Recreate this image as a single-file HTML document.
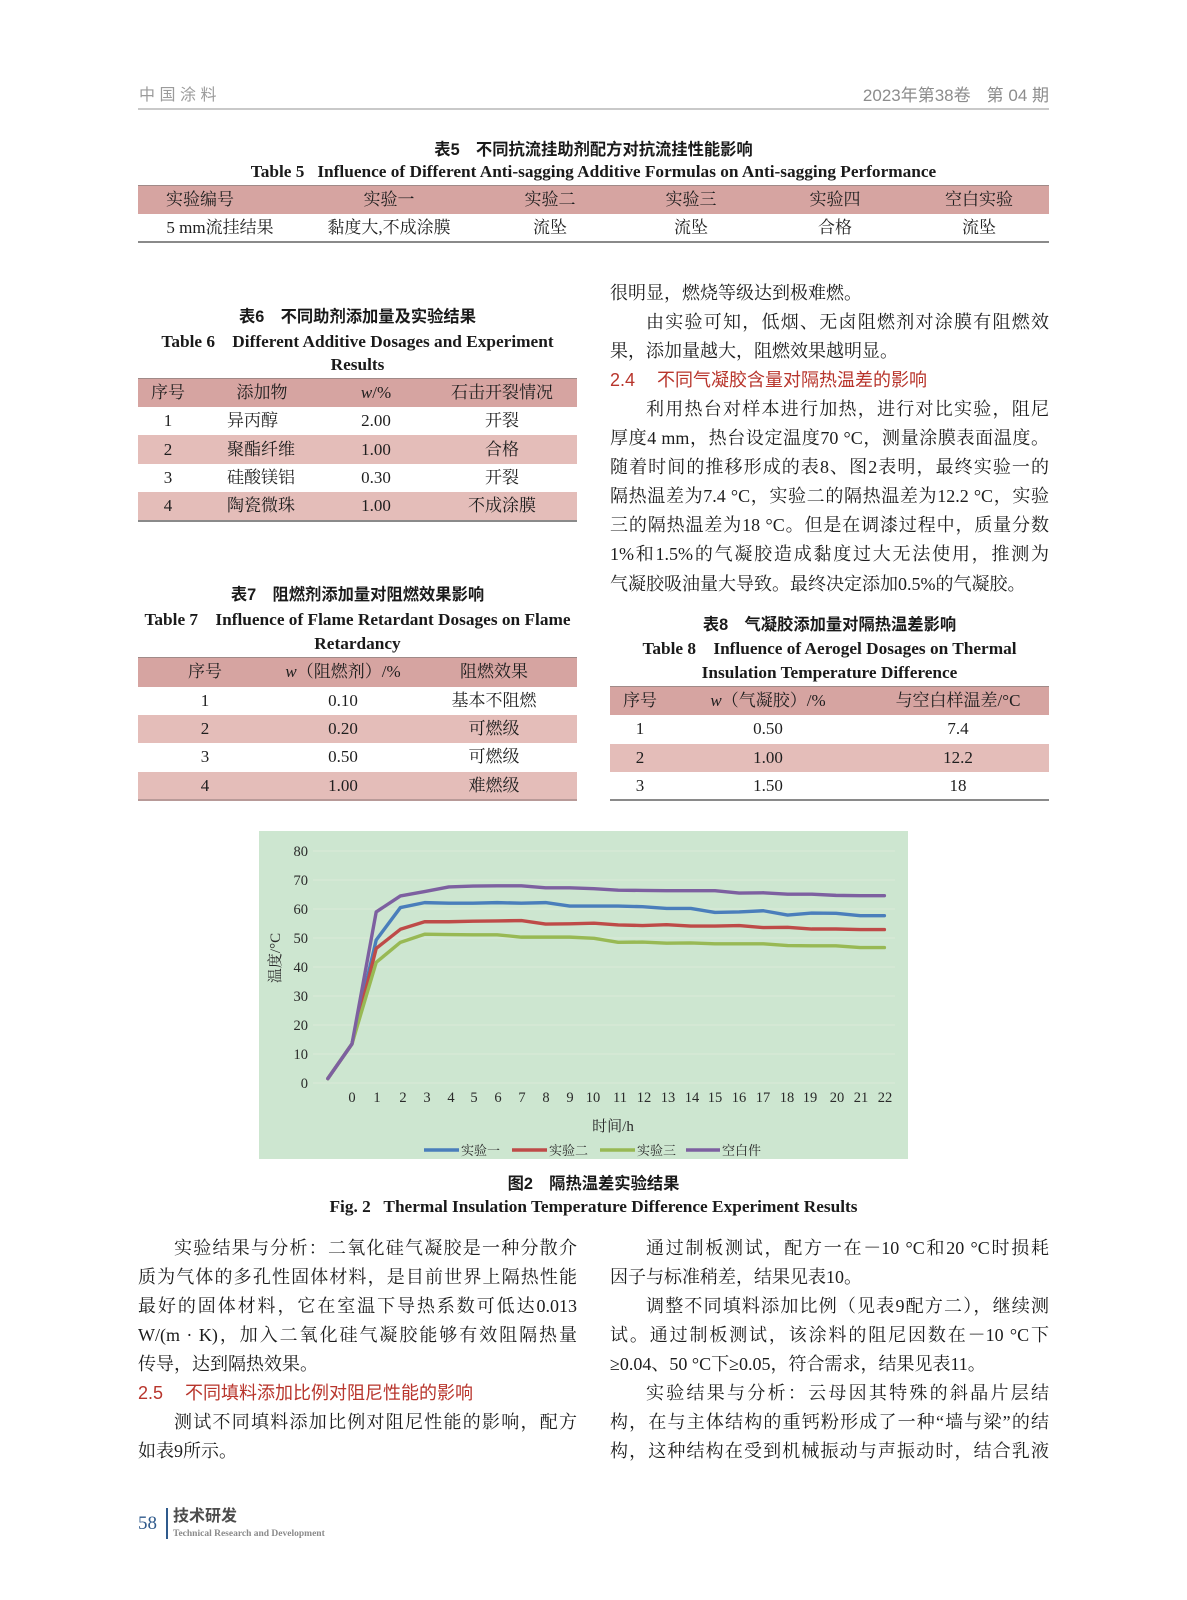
<!DOCTYPE html>
<html><head><meta charset="utf-8">
<style>
*{margin:0;padding:0;box-sizing:border-box}
html,body{width:1187px;height:1600px;background:#fff;overflow:hidden}
body{position:relative;font-family:"Liberation Serif","Noto Serif CJK SC",serif;color:#1e1e1e}
.a{position:absolute;white-space:nowrap}
.ln{position:absolute;height:29px;line-height:29px;font-size:18px;white-space:nowrap;color:#1c1c1c}
.j{text-align:justify;text-align-last:justify;white-space:normal}
.ind{text-indent:2em}
.L{left:138px;width:439px}
.R{left:610px;width:439px}
.h{font-family:"Liberation Sans","Noto Sans CJK SC",sans-serif;color:#b8352c;font-size:18px}
.tt{position:absolute;font-family:"Liberation Sans","Noto Sans CJK SC",sans-serif;font-weight:bold;font-size:16.3px;text-align:center;height:24px;line-height:24px;color:#1a1a1a;white-space:nowrap}
.te{position:absolute;font-weight:bold;font-size:17.3px;text-align:center;height:24px;line-height:24px;color:#1a1a1a;white-space:nowrap}
.bar{position:absolute;background:#d6a4a1;border-top:1.5px solid #a08a88}
.bar2{position:absolute;background:#e4bdb9}
.rule{position:absolute;height:1.5px;background:#8a8a8a}
.c{position:absolute;width:240px;margin-left:-120px;text-align:center;font-size:17px;white-space:nowrap;color:#1e1e1e;height:28px;line-height:28px}
.l{position:absolute;font-size:17px;white-space:nowrap;color:#1e1e1e;height:28px;line-height:28px}
</style></head>
<body>

<!-- header -->
<div class="a" style="left:139px;top:86px;font-family:'Liberation Sans','Noto Sans CJK SC',sans-serif;font-size:16px;letter-spacing:4.5px;color:#9b9b9b;line-height:20px">中国涂料</div>
<div class="a" style="right:138px;top:86px;font-family:'Liberation Sans','Noto Sans CJK SC',sans-serif;font-size:17px;color:#8c8c8c;line-height:20px">2023年第38卷<span style="display:inline-block;width:16px"></span>第 04 期</div>
<div class="a" style="left:138px;top:108px;width:911px;height:1.5px;background:#c9c9c9"></div>

<!-- Table 5 -->
<div class="tt" style="left:138px;width:911px;top:138px">表5&emsp;不同抗流挂助剂配方对抗流挂性能影响</div>
<div class="te" style="left:138px;width:911px;top:160px">Table 5&ensp; Influence of Different Anti-sagging Additive Formulas on Anti-sagging Performance</div>
<div class="bar" style="left:138px;top:185px;width:911px;height:29px"></div>
<div class="c" style="left:200px;top:186px">实验编号</div>
<div class="c" style="left:389px;top:186px">实验一</div>
<div class="c" style="left:550px;top:186px">实验二</div>
<div class="c" style="left:691px;top:186px">实验三</div>
<div class="c" style="left:835px;top:186px">实验四</div>
<div class="c" style="left:979px;top:186px">空白实验</div>
<div class="c" style="left:220px;top:214px">5 mm流挂结果</div>
<div class="c" style="left:389px;top:214px">黏度大,不成涂膜</div>
<div class="c" style="left:550px;top:214px">流坠</div>
<div class="c" style="left:691px;top:214px">流坠</div>
<div class="c" style="left:835px;top:214px">合格</div>
<div class="c" style="left:979px;top:214px">流坠</div>
<div class="rule" style="left:138px;top:241px;width:911px"></div>

<!-- Table 6 -->
<div class="tt" style="left:138px;width:439px;top:305px">表6&emsp;不同助剂添加量及实验结果</div>
<div class="te" style="left:138px;width:439px;top:330px">Table 6&emsp;Different Additive Dosages and Experiment</div>
<div class="te" style="left:138px;width:439px;top:353px">Results</div>
<div class="bar" style="left:138px;top:378px;width:439px;height:29px"></div>
<div class="bar2" style="left:138px;top:435px;width:439px;height:29px"></div>
<div class="bar2" style="left:138px;top:492px;width:439px;height:29px"></div>
<div class="rule" style="left:138px;top:520px;width:439px"></div>
<div class="c" style="left:168px;top:379px">序号</div>
<div class="c" style="left:262px;top:379px">添加物</div>
<div class="c" style="left:376px;top:379px"><i>w</i>/%</div>
<div class="c" style="left:502px;top:379px">石击开裂情况</div>
<div class="c" style="left:168px;top:407px">1</div><div class="l" style="left:227px;top:407px">异丙醇</div><div class="c" style="left:376px;top:407px">2.00</div><div class="c" style="left:502px;top:407px">开裂</div>
<div class="c" style="left:168px;top:436px">2</div><div class="l" style="left:227px;top:436px">聚酯纤维</div><div class="c" style="left:376px;top:436px">1.00</div><div class="c" style="left:502px;top:436px">合格</div>
<div class="c" style="left:168px;top:464px">3</div><div class="l" style="left:227px;top:464px">硅酸镁铝</div><div class="c" style="left:376px;top:464px">0.30</div><div class="c" style="left:502px;top:464px">开裂</div>
<div class="c" style="left:168px;top:492px">4</div><div class="l" style="left:227px;top:492px">陶瓷微珠</div><div class="c" style="left:376px;top:492px">1.00</div><div class="c" style="left:502px;top:492px">不成涂膜</div>

<!-- Table 7 -->
<div class="tt" style="left:138px;width:439px;top:583px">表7&emsp;阻燃剂添加量对阻燃效果影响</div>
<div class="te" style="left:138px;width:439px;top:608px">Table 7&emsp;Influence of Flame Retardant Dosages on Flame</div>
<div class="te" style="left:138px;width:439px;top:632px">Retardancy</div>
<div class="bar" style="left:138px;top:657px;width:439px;height:30px"></div>
<div class="bar2" style="left:138px;top:715px;width:439px;height:28px"></div>
<div class="bar2" style="left:138px;top:772px;width:439px;height:28px"></div>
<div class="rule" style="left:138px;top:799px;width:439px;background:#b89a98"></div>
<div class="c" style="left:205px;top:658px">序号</div>
<div class="c" style="left:343px;top:658px"><i>w</i>（阻燃剂）/%</div>
<div class="c" style="left:494px;top:658px">阻燃效果</div>
<div class="c" style="left:205px;top:687px">1</div><div class="c" style="left:343px;top:687px">0.10</div><div class="c" style="left:494px;top:687px">基本不阻燃</div>
<div class="c" style="left:205px;top:715px">2</div><div class="c" style="left:343px;top:715px">0.20</div><div class="c" style="left:494px;top:715px">可燃级</div>
<div class="c" style="left:205px;top:743px">3</div><div class="c" style="left:343px;top:743px">0.50</div><div class="c" style="left:494px;top:743px">可燃级</div>
<div class="c" style="left:205px;top:772px">4</div><div class="c" style="left:343px;top:772px">1.00</div><div class="c" style="left:494px;top:772px">难燃级</div>

<!-- Right column top text -->
<div class="ln R" style="top:278.5px">很明显，燃烧等级达到极难燃。</div>
<div class="ln R j ind" style="top:307.6px">由实验可知，低烟、无卤阻燃剂对涂膜有阻燃效</div>
<div class="ln R" style="top:336.7px">果，添加量越大，阻燃效果越明显。</div>
<div class="ln R h" style="top:365.8px">2.4<span style="display:inline-block;width:22px"></span>不同气凝胶含量对隔热温差的影响</div>
<div class="ln R j ind" style="top:394.9px">利用热台对样本进行加热，进行对比实验，阻尼</div>
<div class="ln R j" style="top:424px">厚度4 mm，热台设定温度70 °C，测量涂膜表面温度。</div>
<div class="ln R j" style="top:453.1px">随着时间的推移形成的表8、图2表明，最终实验一的</div>
<div class="ln R j" style="top:482.2px">隔热温差为7.4 °C，实验二的隔热温差为12.2 °C，实验</div>
<div class="ln R j" style="top:511.3px">三的隔热温差为18 °C。但是在调漆过程中，质量分数</div>
<div class="ln R j" style="top:540.4px">1%和1.5%的气凝胶造成黏度过大无法使用，推测为</div>
<div class="ln R" style="top:569.5px">气凝胶吸油量大导致。最终决定添加0.5%的气凝胶。</div>

<!-- Table 8 -->
<div class="tt" style="left:610px;width:439px;top:613px">表8&emsp;气凝胶添加量对隔热温差影响</div>
<div class="te" style="left:610px;width:439px;top:637px">Table 8&emsp;Influence of Aerogel Dosages on Thermal</div>
<div class="te" style="left:610px;width:439px;top:661px">Insulation Temperature Difference</div>
<div class="bar" style="left:610px;top:686px;width:439px;height:29px"></div>
<div class="bar2" style="left:610px;top:744px;width:439px;height:28px"></div>
<div class="rule" style="left:610px;top:799px;width:439px"></div>
<div class="c" style="left:640px;top:687px">序号</div>
<div class="c" style="left:768px;top:687px"><i>w</i>（气凝胶）/%</div>
<div class="c" style="left:958px;top:687px">与空白样温差/°C</div>
<div class="c" style="left:640px;top:715px">1</div><div class="c" style="left:768px;top:715px">0.50</div><div class="c" style="left:958px;top:715px">7.4</div>
<div class="c" style="left:640px;top:744px">2</div><div class="c" style="left:768px;top:744px">1.00</div><div class="c" style="left:958px;top:744px">12.2</div>
<div class="c" style="left:640px;top:772px">3</div><div class="c" style="left:768px;top:772px">1.50</div><div class="c" style="left:958px;top:772px">18</div>

<!-- Chart -->
<svg class="a" style="left:259px;top:831px" width="649" height="328" viewBox="259 831 649 328" xmlns="http://www.w3.org/2000/svg">
<rect x="259" y="831" width="649" height="328" fill="#cde6d0"/>
<g stroke="#dcebd9" stroke-width="1">
<line x1="313" y1="851" x2="895" y2="851"/>
<line x1="313" y1="880" x2="895" y2="880"/>
<line x1="313" y1="909" x2="895" y2="909"/>
<line x1="313" y1="938" x2="895" y2="938"/>
<line x1="313" y1="967" x2="895" y2="967"/>
<line x1="313" y1="996" x2="895" y2="996"/>
<line x1="313" y1="1025" x2="895" y2="1025"/>
<line x1="313" y1="1054" x2="895" y2="1054"/>
<line x1="313" y1="1083" x2="895" y2="1083"/>
</g>
<g font-family="Liberation Serif, Noto Serif CJK SC, serif" font-size="14.5" fill="#2a2a2a" text-anchor="end">
<text x="308" y="856">80</text>
<text x="308" y="885">70</text>
<text x="308" y="914">60</text>
<text x="308" y="943">50</text>
<text x="308" y="972">40</text>
<text x="308" y="1001">30</text>
<text x="308" y="1030">20</text>
<text x="308" y="1059">10</text>
<text x="308" y="1088">0</text>
</g>
<g font-family="Liberation Serif, Noto Serif CJK SC, serif" font-size="14.5" fill="#2a2a2a" text-anchor="middle">
<text x="352" y="1102">0</text><text x="377" y="1102">1</text><text x="403" y="1102">2</text><text x="427" y="1102">3</text>
<text x="451" y="1102">4</text><text x="474" y="1102">5</text><text x="498" y="1102">6</text><text x="522" y="1102">7</text>
<text x="546" y="1102">8</text><text x="570" y="1102">9</text><text x="593" y="1102">10</text><text x="620" y="1102">11</text>
<text x="644" y="1102">12</text><text x="668" y="1102">13</text><text x="692" y="1102">14</text><text x="715" y="1102">15</text>
<text x="739" y="1102">16</text><text x="763" y="1102">17</text><text x="787" y="1102">18</text><text x="810" y="1102">19</text>
<text x="837" y="1102">20</text><text x="861" y="1102">21</text><text x="885" y="1102">22</text>
<text x="613" y="1131" font-size="15">时间/h</text>
<text x="0" y="0" font-size="15" transform="translate(280,958) rotate(-90)">温度/°C</text>
</g>
<g fill="none" stroke-width="3.4" stroke-linejoin="round" stroke-linecap="round">
<polyline stroke="#4a7ebb" points="327.8,1078.65 352,1043.85 376.2,940.03 400.4,907.55 424.6,902.62 448.8,903.2 473,903.2 497.2,902.62 521.4,903.2 545.6,902.62 569.8,906.1 594,906.1 618.2,906.1 642.4,906.68 666.6,908.42 690.8,908.42 715,912.48 739.2,911.9 763.4,910.74 787.6,915.09 811.8,913.06 836,913.35 860.2,915.67 884.4,915.67"/>
<polyline stroke="#be4b48" points="327.8,1078.65 352,1043.85 376.2,948.44 400.4,929.3 424.6,921.76 448.8,921.76 473,921.18 497.2,920.89 521.4,920.6 545.6,924.08 569.8,923.79 594,923.21 618.2,924.95 642.4,925.53 666.6,924.66 690.8,926.11 715,926.11 739.2,925.53 763.4,927.56 787.6,927.27 811.8,929.01 836,929.01 860.2,929.59 884.4,929.59"/>
<polyline stroke="#98b954" points="327.8,1078.65 352,1043.85 376.2,962.36 400.4,942.35 424.6,934.23 448.8,934.52 473,934.81 497.2,934.81 521.4,937.13 545.6,937.13 569.8,937.13 594,938.29 618.2,942.35 642.4,942.06 666.6,943.22 690.8,942.93 715,943.8 739.2,943.8 763.4,943.8 787.6,945.54 811.8,945.83 836,945.83 860.2,947.57 884.4,947.57"/>
<polyline stroke="#7d60a0" points="327.8,1078.65 352,1043.85 376.2,911.9 400.4,895.95 424.6,891.6 448.8,886.96 473,886.09 497.2,885.8 521.4,885.8 545.6,887.83 569.8,887.83 594,888.7 618.2,890.15 642.4,890.44 666.6,890.73 690.8,890.73 715,890.73 739.2,893.05 763.4,892.76 787.6,894.21 811.8,894.21 836,895.37 860.2,895.66 884.4,895.66"/>
</g>
<g stroke-width="3.4">
<line x1="424" y1="1150" x2="459" y2="1150" stroke="#4a7ebb"/>
<line x1="512" y1="1150" x2="547" y2="1150" stroke="#be4b48"/>
<line x1="600" y1="1150" x2="635" y2="1150" stroke="#98b954"/>
<line x1="686" y1="1150" x2="720" y2="1150" stroke="#7d60a0"/>
</g>
<g font-family="Liberation Serif, Noto Serif CJK SC, serif" font-size="13" fill="#2a2a2a">
<text x="461" y="1155">实验一</text>
<text x="549" y="1155">实验二</text>
<text x="637" y="1155">实验三</text>
<text x="722" y="1155">空白件</text>
</g>
</svg>

<!-- Figure caption -->
<div class="tt" style="left:138px;width:911px;top:1172px">图2&emsp;隔热温差实验结果</div>
<div class="te" style="left:138px;width:911px;top:1195px">Fig. 2&ensp; Thermal Insulation Temperature Difference Experiment Results</div>

<!-- Left column bottom text -->
<div class="ln L j ind" style="top:1233.5px">实验结果与分析：二氧化硅气凝胶是一种分散介</div>
<div class="ln L j" style="top:1262.6px">质为气体的多孔性固体材料，是目前世界上隔热性能</div>
<div class="ln L j" style="top:1291.7px">最好的固体材料，它在室温下导热系数可低达0.013</div>
<div class="ln L j" style="top:1320.8px">W/(m · K)，加入二氧化硅气凝胶能够有效阻隔热量</div>
<div class="ln L" style="top:1349.9px">传导，达到隔热效果。</div>
<div class="ln L h" style="top:1379px">2.5<span style="display:inline-block;width:22px"></span>不同填料添加比例对阻尼性能的影响</div>
<div class="ln L j ind" style="top:1408.1px">测试不同填料添加比例对阻尼性能的影响，配方</div>
<div class="ln L" style="top:1437.2px">如表9所示。</div>

<!-- Right column bottom text -->
<div class="ln R j ind" style="top:1233.5px">通过制板测试，配方一在－10 °C和20 °C时损耗</div>
<div class="ln R" style="top:1262.6px">因子与标准稍差，结果见表10。</div>
<div class="ln R j ind" style="top:1291.7px">调整不同填料添加比例（见表9配方二），继续测</div>
<div class="ln R j" style="top:1320.8px">试。通过制板测试，该涂料的阻尼因数在－10 °C下</div>
<div class="ln R" style="top:1349.9px">≥0.04、50 °C下≥0.05，符合需求，结果见表11。</div>
<div class="ln R j ind" style="top:1379px">实验结果与分析：云母因其特殊的斜晶片层结</div>
<div class="ln R j" style="top:1408.1px">构，在与主体结构的重钙粉形成了一种“墙与梁”的结</div>
<div class="ln R j" style="top:1437.2px">构，这种结构在受到机械振动与声振动时，结合乳液</div>

<!-- Footer -->
<div class="a" style="left:138px;top:1512px;font-size:19px;line-height:24px;color:#2f5a8c">58</div>
<div class="a" style="left:166px;top:1508px;width:2px;height:31px;background:#2f5a8c"></div>
<div class="a" style="left:173px;top:1507px;font-family:'Liberation Sans','Noto Sans CJK SC',sans-serif;font-weight:bold;font-size:16px;line-height:20px;color:#4d4d4d">技术研发</div>
<div class="a" style="left:173px;top:1528px;font-weight:bold;font-size:9.5px;line-height:12px;color:#8a8a8a">Technical Research and Development</div>

</body></html>
